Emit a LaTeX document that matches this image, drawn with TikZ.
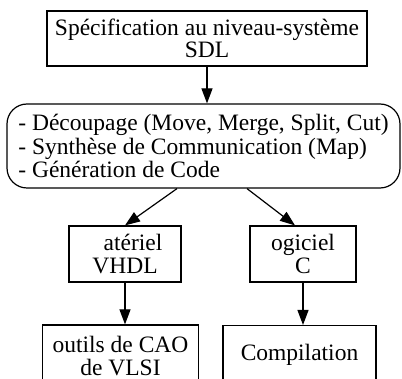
\documentclass[tikz,border=0pt]{standalone}
\usepackage{fontspec}
\setmainfont{Liberation Serif}
\usetikzlibrary{positioning, arrows.meta}

\begin{document}
\begin{tikzpicture}[x=1pt, y=-1pt,
  box/.style={draw, line width=1.2pt, inner sep=0pt, align=center,
              font=\fontsize{23.5}{22.5}\selectfont},
  rbox/.style={draw, line width=1.2pt, rounded corners=20pt, inner sep=0pt, align=left,
               font=\fontsize{23.5}{23.5}\selectfont},
  arr/.style={-{Triangle[length=15pt, width=11pt]}, line width=1.2pt},
]
\useasboundingbox (0,0) rectangle (402,379);
\clip (0,0) rectangle (402,379);

% Specification
\node[box, minimum width=320pt, minimum height=55pt] (spec) at (207,38.5)
  {Spécification au niveau-système\\SDL};

% Partitioning steps
\node[rbox, minimum width=393pt, minimum height=84pt] (steps) at (203.5,146)
  {- Découpage (Move, Merge, Split, Cut)\\- Synthèse de Communication (Map)\\- Génération de Code};

% Hardware / software
\node[box, minimum width=112pt, minimum height=56pt] (hw) at (125,254)
  {\hspace*{16pt}atériel\\VHDL};
\node[box, minimum width=106pt, minimum height=56pt] (sw) at (303,254)
  {ogiciel\\C};

% Back-end tools (cut by the page bottom)
\node[box, minimum width=156pt, minimum height=62pt] (cao) at (120.5,356)
  {outils de CAO\\de VLSI};
\node[box, anchor=north, minimum width=153pt, text height=35pt, text depth=30pt] (comp) at (299.5,325)
  {Compilation};

% Arrows
\draw[arr] (spec.south) -- (spec.south |- steps.north);
\draw[arr] ([xshift=-26.5pt]steps.south) -- (hw.north);
\draw[arr] ([xshift=43.5pt]steps.south) -- ([xshift=-8pt]sw.north);
\draw[arr] (hw.south) -- (hw.south |- cao.north);
\draw[arr] (sw.south) -- (sw.south |- comp.north);

\end{tikzpicture}
\end{document}
